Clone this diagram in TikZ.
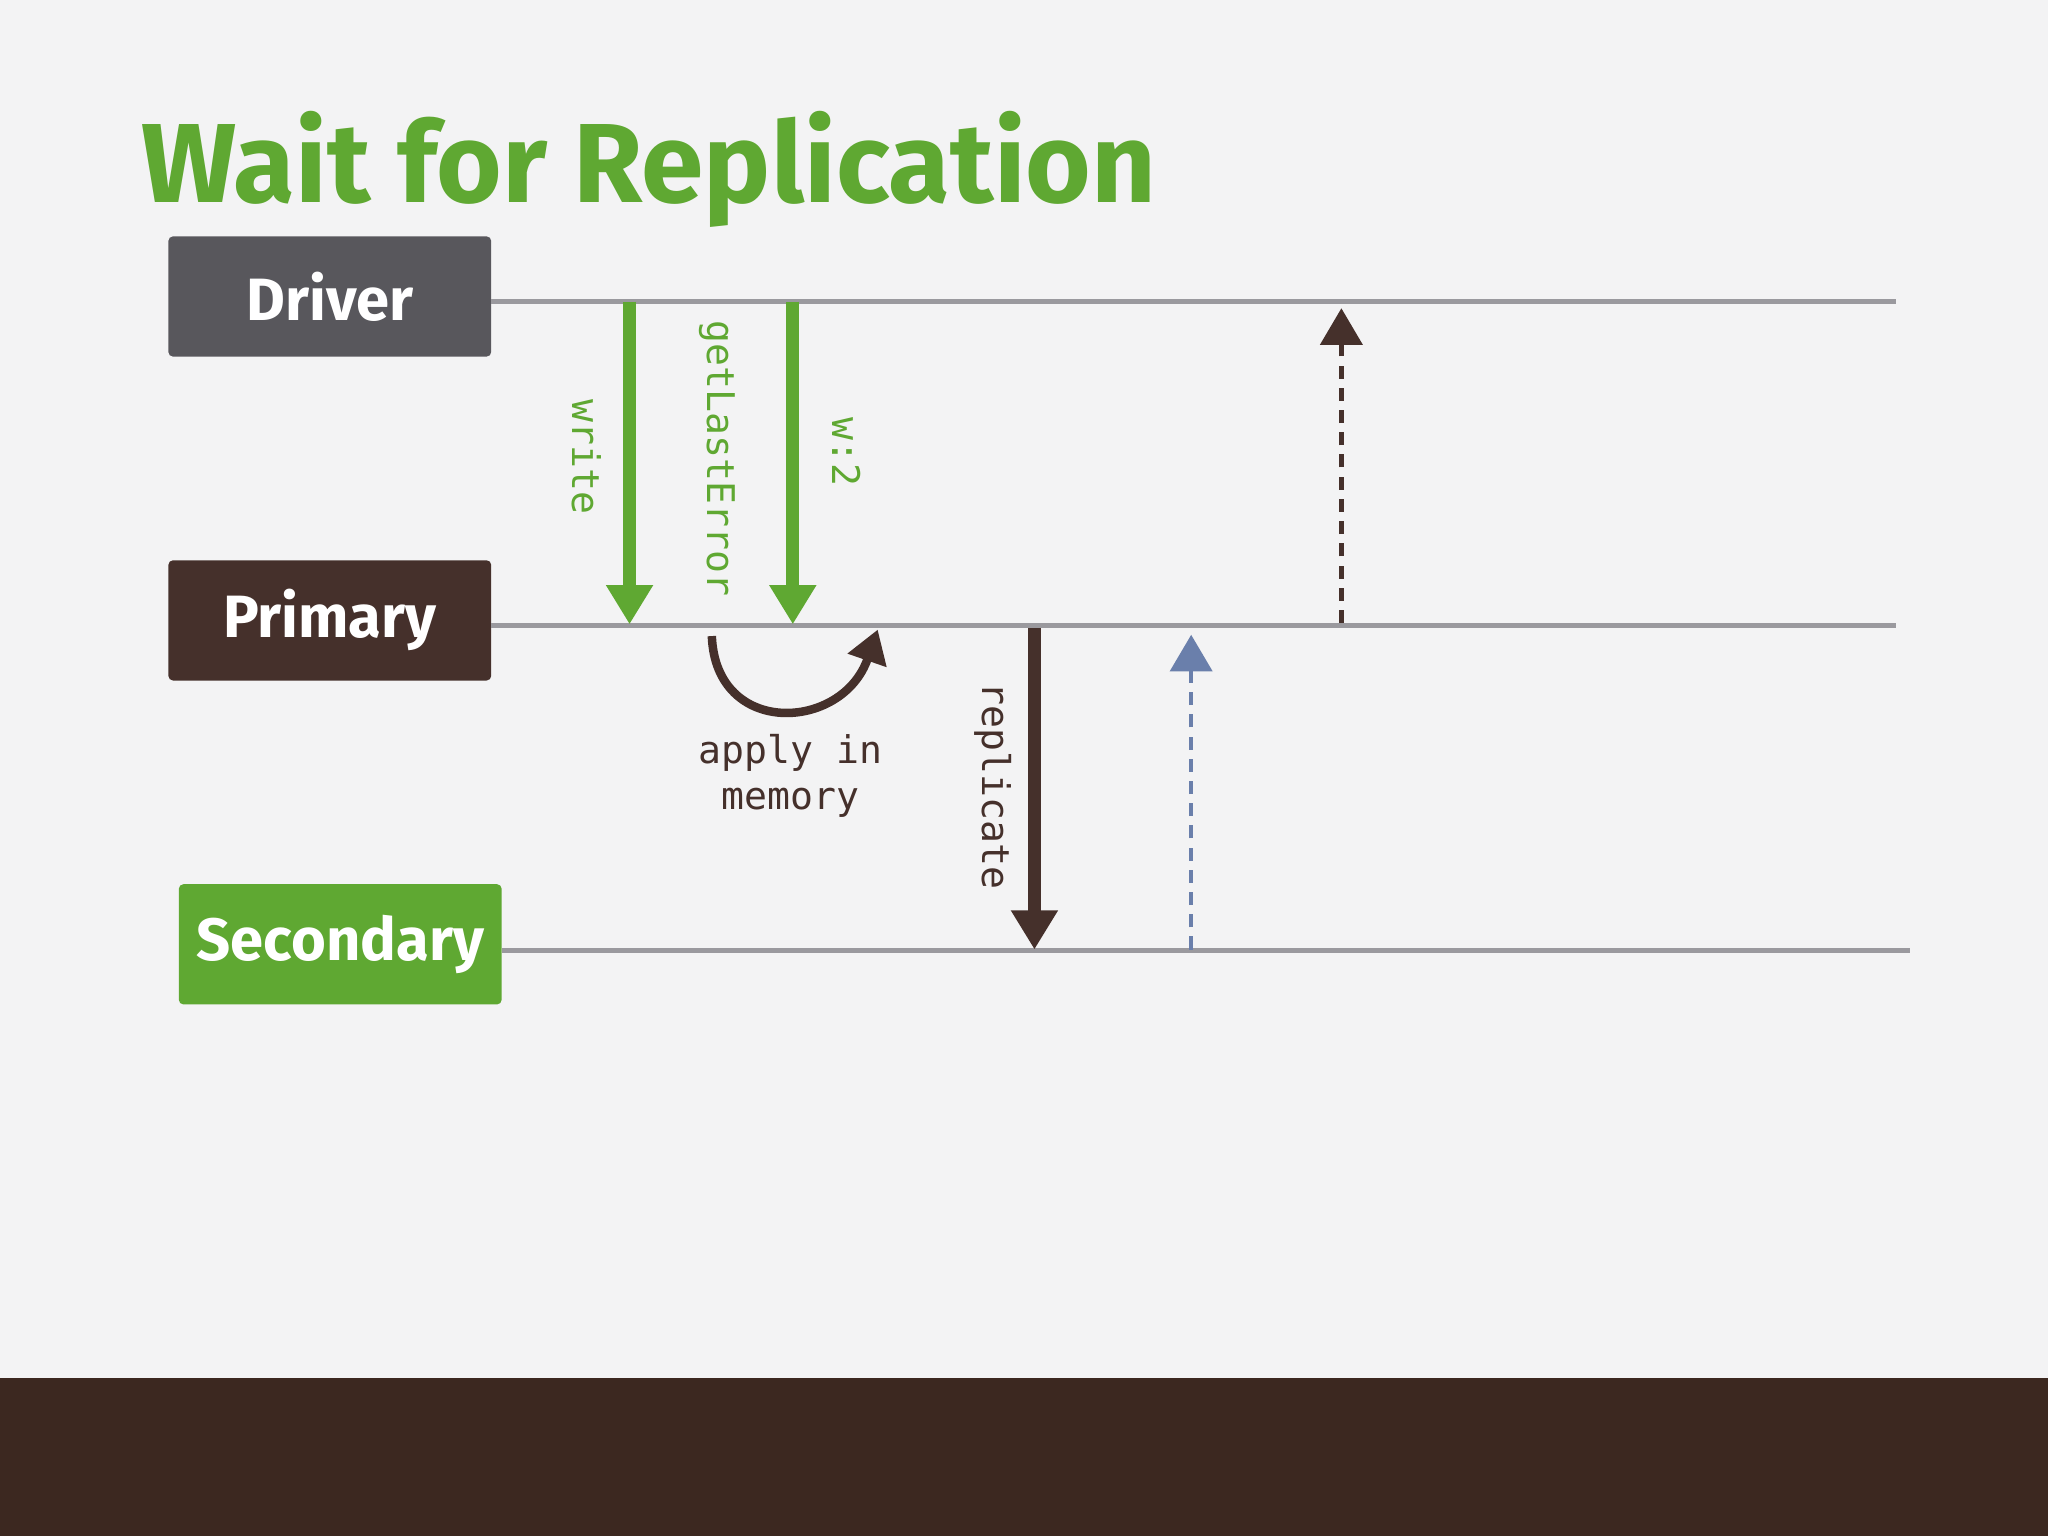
\documentclass[tikz,border=0pt]{standalone}
\usepackage{fontspec}
\setmainfont{Fira Sans}
\newfontfamily\monofont{DejaVu Sans Mono}
\usetikzlibrary{positioning, calc, arrows.meta}
\definecolor{bg}{HTML}{F3F3F4}
\definecolor{leaf}{HTML}{5FA832}
\definecolor{bark}{HTML}{45302B}
\definecolor{slate}{HTML}{58575C}
\definecolor{wire}{HTML}{9A999E}
\definecolor{sky}{HTML}{6A7FAB}
\definecolor{soil}{HTML}{3C2820}
\begin{document}
\begin{tikzpicture}[x=0.01cm, y=-0.01cm,
    box/.style={rectangle, rounded corners=1pt, minimum width=2.47cm, minimum height=0.92cm,
      text=white, font=\fontsize{13}{15}\selectfont\bfseries},
    life/.style={wire, line width=0.04cm},
    msg/.style={line width=0.1cm, -{Triangle[width=0.34cm,length=0.3cm]}},
    ack/.style={line width=0.035cm, dash pattern=on 0.1cm off 0.07cm, -{Triangle[width=0.32cm,length=0.28cm]}},
    tag/.style={font=\monofont\fontsize{8.3}{10}\selectfont}, >=stealth]

  \fill[bg] (0,0) rectangle (1568,1176);
  \fill[soil] (0,1055) rectangle (1568,1176);
  \node[anchor=base west, text=leaf, font=\fontsize{24.5}{28}\selectfont\bfseries, inner sep=0pt] (title) at (108,155) {Wait for Replication};

  \node[box, fill=slate] (D) at (252.5,227) {Driver};
  \node[box, fill=bark] (P) at (252.5,475) {Primary};
  \node[box, fill=leaf] (S) at (260.5,723) {Secondary};

  \coordinate (dEnd) at (1452,231);
  \coordinate (pEnd) at (1452,479);
  \coordinate (sEnd) at (1462,728);
  \draw[life] (376,231) -- (dEnd);
  \draw[life] (376,479) -- (pEnd);
  \draw[life] (384,728) -- (sEnd);

  % driver -> primary
  \coordinate (w1) at (482,231); \coordinate (w2) at (482,478);
  \coordinate (g1) at (607,231); \coordinate (g2) at (607,478);
  \draw[msg, leaf] (w1) -- (w2);
  \draw[msg, leaf] (g1) -- (g2);
  \node[tag, text=leaf, rotate=-90] (wr) at (449,350) {write};
  \node[tag, text=leaf, rotate=-90] (gle) at (549,351) {getLastError};
  \node[tag, text=leaf, rotate=-90] (wc) at (648,346) {w:2};

  % apply in memory
  \coordinate (a1) at (545,487); \coordinate (a2) at (672,482);
  \draw[bark, line width=0.065cm, -{Triangle[width=0.3cm,length=0.25cm]}]
    (a1) .. controls (548,565) and (645,560) .. (a2);
  \node[tag, text=bark, align=center] (am) at (605,594) {apply in\\memory};

  % primary -> secondary
  \coordinate (r1) at (792,481); \coordinate (r2) at (792,727);
  \draw[msg, bark] (r1) -- (r2);
  \node[tag, text=bark, rotate=-90] (rep) at (760,602) {replicate};

  % acks
  \coordinate (s1) at (912,727); \coordinate (s2) at (912,486);
  \draw[ack, sky] (s1) -- (s2);
  \coordinate (p1) at (1027,477); \coordinate (p2) at (1027,236);
  \draw[ack, bark] (p1) -- (p2);
\end{tikzpicture}
\end{document}
